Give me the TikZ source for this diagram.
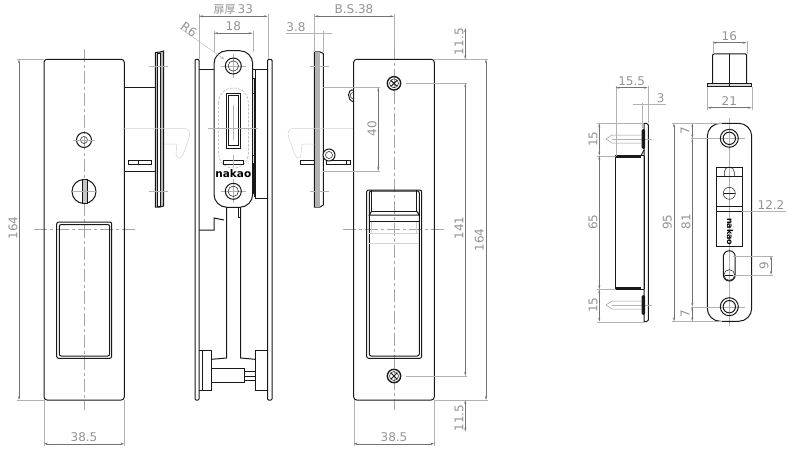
\documentclass[tikz,border=0pt]{standalone}
\usepackage{fontspec}
\setmainfont{DejaVu Sans}
\newfontfamily\cjkfont{Noto Sans CJK JP}
\usetikzlibrary{arrows.meta,positioning,calc}
\definecolor{dimgray}{gray}{.45}
\definecolor{inkgray}{gray}{.1}
\tikzset{
  part/.style = {draw = inkgray, line width = 1pt},
  fine/.style = {draw = inkgray, line width = .5pt},
  hidden/.style = {draw = gray!70, line width = .5pt, dash pattern = on 2.5pt off 1.5pt},
  ghost/.style = {draw = gray!35, line width = .5pt},
  dimline/.style = {draw = dimgray, line width = .4pt, {Stealth[length = 4pt, width = 2pt]}-{Stealth[length = 4pt, width = 2pt]}},
  extline/.style = {draw = gray!60, line width = .4pt},
  axis/.style = {draw = gray!70, line width = .45pt, dash pattern = on 13pt off 3pt on 3pt off 3pt},
  dimtext/.style = {text = gray!85, font = \fontsize{12}{13}\selectfont, inner sep = 0pt},
  brand/.style = {text = black, font = \fontsize{10.5}{11}\selectfont\bfseries, inner sep = 0pt}
}

\begin{document}
\begin{tikzpicture}[x = 1pt, y = -1pt]
\useasboundingbox (0, 0) rectangle (788, 452);

% front view, left
\draw[axis] (84, 49) -- (84, 410);
\draw[axis] (34, 229.3) -- (135, 229.3);
\draw[part, rounded corners = 3pt] (44, 59.3) rectangle (124.3, 400);
\draw[part, rounded corners = 2pt] (56.7, 222) rectangle (111.7, 358.3);
\draw[part, rounded corners = 2pt] (59.3, 224.5) rectangle (109.7, 356);
\draw[part] (84, 140) circle[radius = 7.5];
\draw[fine] (84, 140) circle[radius = 3.5];
\draw[extline] (73, 140) -- (95, 140);
\draw[part] (84, 191.5) circle[radius = 12];
\draw[part, fill = gray!45] (82.7, 179.7) rectangle (87.3, 203.3);
\draw[extline] (72, 191.5) -- (97, 191.5);

% side view, left
\draw[part] (124.3, 87.3) -- (155.3, 87.3);
\draw[part] (124.3, 171) -- (155.3, 171);
\draw[part, fill = gray!55] (155.3, 207) -- (155.3, 52.5) -- (160, 52) -- (163.7, 51) -- (163.7, 206) -- (160, 207) -- cycle;
\draw[fill = white, draw = inkgray, line width = .5pt] (157.5, 53) rectangle (160, 206);
\draw[extline] (149, 66) -- (168, 66);
\draw[extline] (149, 191.5) -- (168, 191.5);
\draw[part] (128.3, 160) rectangle (151.7, 164.7);
\draw[fine] (138, 160) -- (138, 164.7);
\draw[ghost] (124.3, 128.3) -- (183, 128.3) .. controls (189, 128.3) and (191, 132) .. (189, 138) -- (183, 155) .. controls (180, 160) and (176, 159) .. (176, 153) -- (177, 144) -- (164, 144);

% middle section
\draw[part, rounded corners = 1pt] (195, 59.3) rectangle (199, 400);
\draw[part, rounded corners = 1pt] (267.7, 59.3) rectangle (272, 400);
\draw[part] (199, 70) -- (214, 70);
\draw[part] (252.7, 70) -- (267.7, 70);
\draw[part] (255, 70) -- (255, 198) -- (267.7, 198);
\draw[part] (199, 230) -- (214, 230) -- (214, 218) -- (224, 220);
\draw[part] (226.7, 207) -- (226.7, 358) -- (211.7, 359.3);
\draw[part] (238.3, 207) -- (238.3, 217) -- (240.7, 217);
\draw[part] (240.7, 207) -- (240.7, 358) -- (255, 359.3);
\draw[part] (199, 350.7) -- (211.7, 350.7) -- (211.7, 390) -- (199, 390);
\draw[part] (202.3, 350.7) -- (202.3, 390);
\draw[part] (255, 350.7) rectangle (267.7, 390);
\draw[part] (211.7, 368.3) -- (244, 368.3) -- (244, 382.7) -- (211.7, 382.7);
\draw[part] (244, 371) -- (255, 371);
\draw[part] (244, 380.7) -- (255, 380.7);
\draw[fine] (244, 375.8) -- (255, 375.8);
\draw[part] (252.7, 78.7) -- (254.7, 78.7) -- (254.7, 196.7);
\foreach \ty in {94, 155, 163} {
  \draw[part] (252.7, \ty) -- (255, \ty);
}
\draw[part, line width = 1.2pt] (254, 163) -- (254, 194);
\draw[part, fill = white, rounded corners = 13pt] (214, 50.7) rectangle (252.7, 207.3);
\draw[hidden, rounded corners = 14.5pt] (218.7, 88) rectangle (248.3, 168);
\draw[part] (226, 93.3) rectangle (240.7, 148.3);
\draw[fine] (228.7, 95) rectangle (238, 145.5);
\draw[part] (223.3, 160) rectangle (243.3, 164.7);
\draw[extline] (208, 128.3) -- (258, 128.3);
\draw[extline] (233.3, 105) -- (233.3, 140);
\draw[extline] (233.3, 155) -- (233.3, 167);
\foreach \cy in {66, 191.3} {
  \draw[extline] (233.3, \cy - 12) -- (233.3, \cy + 12);
  \draw[extline] (221, \cy) -- (246, \cy);
  \draw[part] (233.3, \cy) circle[radius = 8];
  \draw[fine] (233.3, \cy) circle[radius = 5.2];
}
\node[brand] (nakaoside) at (233.3, 174) {nakao};

% side view, right
\draw[part] (323.3, 87.3) -- (353.7, 87.3);
\draw[part] (323.3, 171) -- (353.7, 171);
\draw[part, fill = white] (314.3, 52) -- (320, 52) -- (323.3, 53.5) -- (323.3, 205) -- (320, 207) -- (314.3, 207) -- cycle;
\fill[gray!60] (314.8, 52.5) rectangle (320, 206.5);
\draw[extline] (310, 66) -- (329, 66);
\draw[extline] (310, 191.3) -- (329, 191.3);
\draw[ghost] (353.7, 128.3) -- (294, 128.3) .. controls (288, 128.3) and (287, 133) .. (289, 138) -- (295, 155) .. controls (297, 159) and (301, 159) .. (301, 155) -- (302, 144) -- (314.3, 144);
\draw[part] (300, 160) rectangle (314.3, 164.7);
\draw[part] (326.7, 160) rectangle (350, 164.7);
\draw[fine] (346, 160) -- (346, 164.7);
\draw[part, fill = white] (329, 155) circle[radius = 6];
\draw[fine] (329, 155) circle[radius = 3.5];
\draw[part] (353.7, 90) .. controls (347, 89) and (346.5, 100) .. (353.7, 102);
\draw[fine] (353.7, 92.5) .. controls (349.5, 92) and (349, 98) .. (353.7, 99.5);

% front view, right
\draw[axis] (394, 47) -- (394, 410);
\draw[axis] (343.3, 229.3) -- (445, 229.3);
\draw[part, rounded corners = 3pt] (353.7, 59.3) rectangle (434.3, 400);
\draw[part, rounded corners = 2pt] (366.7, 190) rectangle (421.7, 358.3);
\draw[part, rounded corners = 2pt] (369.3, 191) rectangle (419.3, 356);
\draw[fine] (371.7, 190) -- (371.7, 211) -- (416.7, 211) -- (416.7, 190);
\draw[part] (371.7, 211) -- (369.3, 215) -- (419.3, 215) -- (416.7, 211);
\draw[part] (369.3, 221.7) -- (419.3, 221.7);
\draw[ghost] (369.3, 233) -- (419.3, 233);
\draw[ghost] (369.3, 243) -- (419.3, 243);
\draw[ghost] (371.7, 222) -- (371.7, 233);
\draw[ghost] (416.7, 222) -- (416.7, 233);
\foreach \sy in {83.3, 376} {
  \draw[part, line width = 1.4pt] (394, \sy) circle[radius = 6.7];
  \draw[fine] (394, \sy) circle[radius = 4.5];
  \draw[part, rotate around = {45 : (394, \sy)}] (390, \sy) -- (398, \sy);
  \draw[part, rotate around = {45 : (394, \sy)}] (394, \sy - 4) -- (394, \sy + 4);
}

% strike, side
\draw[part] (644, 123.3) -- (646.5, 123.3) -- (648.3, 125) -- (648.3, 320) -- (646.5, 321.7) -- (644, 321.7) -- cycle;
\draw[part] (644, 155.7) -- (615.7, 155.7) -- (615.7, 289.3) -- (644, 289.3);
\draw[part] (641, 155.7) -- (644, 150);
\draw[part] (644, 155.7) -- (644, 289.3);
\draw[part, line width = 1.3pt] (616, 157) -- (641, 157);
\draw[part, line width = 1.3pt] (616, 288) -- (641, 288);
\foreach \py in {139, 305} {
  \draw[fine, draw = gray!80] (641, \py - 4) -- (612, \py - 4) -- (606, \py) -- (612, \py + 4) -- (641, \py + 4);
  \draw[extline] (612, \py) -- (652, \py);
  \fill[inkgray, rounded corners = 1.5pt] (641.5, \py - 10) rectangle (645, \py + 10);
}

% strike, top
\draw[part, rounded corners = 1pt] (712.7, 83.3) -- (712.7, 54) -- (746.7, 54) -- (746.7, 83.3);
\draw[part, fill = gray!30] (707.3, 83.3) rectangle (751.7, 86.7);
\draw[fine] (729.3, 54) -- (729.3, 86.7);

% strike, front
\draw[extline] (729.3, 118) -- (729.3, 326);
\draw[part, rounded corners = 13pt] (707.3, 123.3) rectangle (751.7, 321.3);
\draw[part] (716.7, 167.3) rectangle (742.7, 246.7);
\draw[fine] (716.7, 176.7) -- (742.7, 176.7);
\draw[part] (716.7, 206.7) -- (742.7, 206.7);
\draw[part] (716.7, 211.3) -- (742.7, 211.3);
\draw[fine] (724.3, 176.7) -- (724.3, 172) arc[start angle = 180, end angle = 360, radius = 5] -- (734.3, 176.7);
\draw[fine] (729.3, 193.3) circle[radius = 6];
\draw[fine] (724, 193.3) -- (734.6, 193.3);
\draw[part, rounded corners = 5.9pt] (723.4, 250.7) rectangle (735.2, 281);
\draw[fine] (729.3, 275) circle[radius = 5.4];
\draw[fine] (724.5, 275) -- (734, 275);
\foreach \hy in {138.3, 306.7} {
  \draw[extline] (714, \hy) -- (745, \hy);
  \draw[part] (729.3, \hy) circle[radius = 9];
  \draw[part] (729.3, \hy) circle[radius = 6.2];
}
\node[brand, rotate = -90, font = \fontsize{8}{9}\selectfont\bfseries] (nakaostrike) at (730, 231.7) {nakao};

% dimensions, left door
\draw[extline] (17, 59.3) -- (44, 59.3);
\draw[extline] (17, 400) -- (44, 400);
\draw[dimline] (19, 59.3) -- (19, 400);
\node[dimtext, rotate = 90] (lefthigh) at (13, 228) {164};
\draw[extline] (44, 400) -- (44, 446);
\draw[extline] (124.3, 400) -- (124.3, 446);
\draw[dimline] (44, 443.7) -- (124.3, 443.7);
\node[dimtext] (leftwide) at (84, 437) {38.5};

% dimensions, middle
\draw[extline] (199, 14) -- (199, 59);
\draw[extline] (267.7, 14) -- (267.7, 59);
\draw[dimline] (199, 16.3) -- (267.7, 16.3);
\node[dimtext] (doorthick) at (233.3, 9.5) {{\cjkfont\fontsize{11}{12}\selectfont 扉厚}\,33};
\draw[extline] (214, 31) -- (214, 52);
\draw[extline] (252.7, 31) -- (252.7, 52);
\draw[dimline] (214, 33.3) -- (252.7, 33.3);
\node[dimtext] (platewide) at (233.3, 26.5) {18};
\draw[extline, -{Stealth[length = 4pt, width = 2pt]}] (180, 28) -- (224.5, 59.5);
\node[dimtext, rotate = -35] (cornerrad) at (189, 29.5) {R6};

% dimensions, right door
\draw[extline] (314.3, 14) -- (314.3, 52);
\draw[extline] (394, 14) -- (394, 47);
\draw[dimline] (314.3, 16.3) -- (394, 16.3);
\node[dimtext] (backset) at (354, 9.5) {B.S.38};
\draw[extline] (323.3, 31) -- (323.3, 52);
\draw[extline] (286, 33.3) -- (331.7, 33.3);
\draw[extline] (314.3, 31) -- (314.3, 36);
\node[dimtext] (platethick) at (296, 27.5) {3.8};
\draw[extline] (323.3, 87.3) -- (380, 87.3);
\draw[extline] (323.3, 171) -- (380, 171);
\draw[dimline] (378.3, 87.3) -- (378.3, 171);
\node[dimtext, rotate = 90] (bodyhigh) at (372, 128.5) {40};
\draw[extline] (434.3, 59.3) -- (488, 59.3);
\draw[extline] (434.3, 399.7) -- (488, 399.7);
\draw[extline] (406, 83.3) -- (467, 83.3);
\draw[extline] (406, 376) -- (467, 376);
\draw[dimline] (465.3, 83.3) -- (465.3, 376);
\draw[dimline] (465.3, 28) -- (465.3, 59.3);
\draw[dimline] (465.3, 400) -- (465.3, 431.7);
\node[dimtext, rotate = 90] (topgap) at (459, 41.7) {11.5};
\node[dimtext, rotate = 90] (pitch) at (459, 228) {141};
\node[dimtext, rotate = 90] (bottomgap) at (459, 418) {11.5};
\draw[dimline] (486, 59.3) -- (486, 400);
\node[dimtext, rotate = 90] (righthigh) at (479.3, 240) {164};
\draw[extline] (353.7, 400) -- (353.7, 446);
\draw[extline] (434.3, 400) -- (434.3, 446);
\draw[dimline] (353.7, 443.7) -- (434.3, 443.7);
\node[dimtext] (rightwide) at (394, 437) {38.5};

% dimensions, strike
\draw[extline] (615.7, 86) -- (615.7, 155.7);
\draw[extline] (647.7, 86) -- (647.7, 123.3);
\draw[dimline] (615.7, 87.7) -- (647.7, 87.7);
\node[dimtext] (strikedeep) at (631.7, 81.7) {15.5};
\draw[extline] (641.7, 103) -- (641.7, 128);
\draw[extline] (633, 104.7) -- (666, 104.7);
\node[dimtext] (strikeplate) at (660.7, 98.3) {3};
\draw[extline] (597, 123.3) -- (644, 123.3);
\draw[extline] (597, 155.7) -- (616, 155.7);
\draw[extline] (597, 289.3) -- (616, 289.3);
\draw[extline] (597, 321.7) -- (644, 321.7);
\draw[dimline] (599.3, 123.3) -- (599.3, 155.7);
\draw[dimline] (599.3, 155.7) -- (599.3, 289.3);
\draw[dimline] (599.3, 289.3) -- (599.3, 321.7);
\node[dimtext, rotate = 90] (screwtop) at (593, 139) {15};
\node[dimtext, rotate = 90] (bodylong) at (593, 222) {65};
\node[dimtext, rotate = 90] (screwbot) at (593, 305) {15};
\draw[extline] (712.7, 41) -- (712.7, 54);
\draw[extline] (746.7, 41) -- (746.7, 54);
\draw[dimline] (712.7, 42.7) -- (746.7, 42.7);
\node[dimtext] (topnarrow) at (729.3, 36.5) {16};
\draw[extline] (707.3, 86.7) -- (707.3, 110);
\draw[extline] (751.7, 86.7) -- (751.7, 110);
\draw[dimline] (707.3, 107.7) -- (751.7, 107.7);
\node[dimtext] (topwide) at (729.3, 101) {21};
\draw[extline] (672, 123.3) -- (722, 123.3);
\draw[extline] (672, 321.3) -- (722, 321.3);
\draw[dimline] (674, 123.3) -- (674, 321.3);
\node[dimtext, rotate = 90] (strikelong) at (667.3, 222) {95};
\draw[extline] (691, 138.3) -- (714, 138.3);
\draw[extline] (691, 306.7) -- (714, 306.7);
\draw[dimline] (692.3, 123.3) -- (692.3, 138.3);
\draw[dimline] (692.3, 138.3) -- (692.3, 306.7);
\draw[dimline] (692.3, 306.7) -- (692.3, 321.3);
\node[dimtext, rotate = 90] (holetop) at (685, 131) {7};
\node[dimtext, rotate = 90] (holepitch) at (686, 221.7) {81};
\node[dimtext, rotate = 90] (holebot) at (685, 314) {7};
\draw[extline] (741.7, 211) -- (786, 211);
\node[dimtext] (strikeoff) at (771, 205) {12.2};
\draw[extline] (733, 256) -- (773, 256);
\draw[extline] (733, 275) -- (773, 275);
\draw[dimline] (771, 256) -- (771, 275);
\node[dimtext, rotate = 90] (slotlong) at (764, 265.5) {9};

\end{tikzpicture}
\end{document}
